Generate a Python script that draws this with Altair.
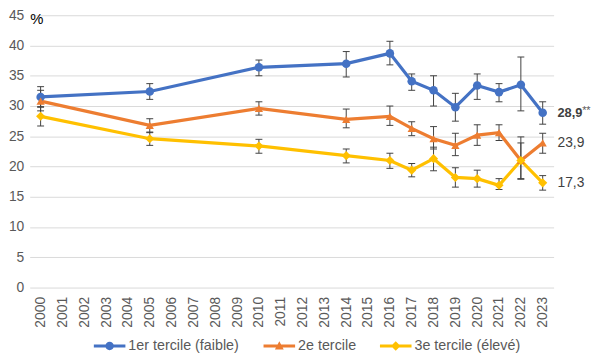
import altair as alt
import pandas as pd

years_all = [str(y) for y in range(2000, 2024)]
years = [2000, 2005, 2010, 2014, 2016, 2017, 2018, 2019, 2020, 2021, 2022, 2023]
series_names = ["1er tercile (faible)", "2e tercile", "3e tercile (élevé)"]

t1 = [31.5, 32.4, 36.4, 37.0, 38.7, 34.1, 32.6, 29.8, 33.4, 32.3, 33.5, 28.9]
t1_lo = [29.8, 31.1, 35.0, 34.8, 36.8, 32.6, 30.0, 27.5, 31.1, 30.7, 29.2, 27.0]
t1_hi = [33.2, 33.7, 37.6, 39.0, 40.7, 35.3, 35.0, 32.1, 35.3, 33.7, 38.1, 30.7]

t2 = [30.8, 26.8, 29.6, 27.8, 28.3, 26.3, 24.6, 23.5, 25.2, 25.6, 21.0, 23.9]
t2_lo = [29.2, 25.6, 28.5, 26.4, 26.8, 25.1, 22.9, 21.8, 23.5, 24.3, 17.9, 22.2]
t2_hi = [32.6, 27.9, 30.7, 29.5, 30.0, 27.4, 26.6, 25.5, 26.9, 26.9, 24.9, 25.5]

t3 = [28.3, 24.6, 23.4, 21.8, 21.0, 19.4, 21.3, 18.2, 18.0, 16.9, 21.0, 17.3]
t3_lo = [26.7, 23.5, 22.2, 20.6, 19.7, 18.3, 19.3, 16.6, 16.6, 16.2, 18.0, 16.1]
t3_hi = [29.9, 25.7, 24.5, 22.9, 22.2, 20.5, 23.2, 19.8, 19.4, 18.0, 23.9, 18.5]

label_year = ["2023", "2023", "2023"]
label_vals = [28.9, 23.9, 17.3]
label_text = ["28,9", "23,9", "17,3"]
label_suffix = ["**", "", ""]
label_bold = [True, False, False]

colors = ["#4472C4", "#ED7D31", "#FFC000"]
shapes = ["circle", "triangle-up", "diamond"]
sizes = [75, 70, 85]
legend_paths = [
    "M-1,-0.1H1V0.1H-1Z M-0.266,0A0.266,0.266,0,1,1,0.266,0A0.266,0.266,0,1,1,-0.266,0Z",
    "M-1,-0.1H1V0.1H-1Z M0,-0.31L0.28,0.22L-0.28,0.22Z",
    "M-1,-0.1H1V0.1H-1Z M0,-0.3L0.3,0L0,0.3L-0.3,0Z",
]

rows = []
for name, vals, lo, hi in zip(series_names, [t1, t2, t3], [t1_lo, t2_lo, t3_lo], [t1_hi, t2_hi, t3_hi]):
    for yr, v, l, h in zip(years, vals, lo, hi):
        rows.append(dict(year=str(yr), series=name, value=v, lo=l, hi=h))
df = pd.DataFrame(rows)

labels = pd.DataFrame(dict(year=label_year, value=label_vals, text=label_text,
                           suffix=label_suffix, bold=label_bold))

FONT = "Liberation Sans"
xscale = alt.Scale(type="point", domain=years_all, padding=0.5)
yscale = alt.Scale(domain=[0, 45], nice=False)
x_axis = alt.Axis(title=None, labelAngle=270, labelPadding=9, ticks=False, domain=False,
                  grid=False, labelColor="#595959", labelFontSize=14, labelFont=FONT)
y_axis = alt.Axis(title="%", titleAngle=0, titleAlign="left", titleX=0, titleY=8,
                  titleBaseline="alphabetic", titleFontSize=15, titleFontWeight="normal",
                  titleColor="#000000", titleFont=FONT,
                  values=list(range(0, 50, 5)), ticks=False, domain=False,
                  grid=True, gridColor="#d9d9d9", gridWidth=1,
                  labelColor="#595959", labelFontSize=14, labelPadding=6, labelFont=FONT)

X = alt.X("year:O", scale=xscale, axis=x_axis)
def Y(field):
    return alt.Y(f"{field}:Q", scale=yscale, axis=y_axis)

base = alt.Chart(df)

line_layers = []
point_layers = []
for name, col, shp, sz in zip(series_names, colors, shapes, sizes):
    sub = base.transform_filter(alt.datum.series == name)
    line_layers.append(sub.mark_line(strokeWidth=3.25, color=col).encode(x=X, y=Y("value")))
    point_layers.append(
        sub.mark_point(filled=True, shape=shp, size=sz, opacity=1, color=col)
        .encode(x=X, y=Y("value"))
    )

err_rule = base.mark_rule(color="#404040", strokeWidth=1).encode(x=X, y=Y("lo"), y2="hi:Q")
cap_lo = base.mark_tick(color="#404040", thickness=1, size=7, opacity=1).encode(x=X, y=Y("lo"))
cap_hi = base.mark_tick(color="#404040", thickness=1, size=7, opacity=1).encode(x=X, y=Y("hi"))

leg = alt.Legend(orient="none", legendX=65, legendY=319, direction="horizontal",
                 labelOffset=3, columnPadding=24, padding=0, symbolSize=1024,
                 symbolStrokeWidth=0, symbolOpacity=1, labelFontSize=14.5, labelColor="#595959",
                 labelFont=FONT)
# legend-only layer: no marks drawn (empty after filter), domain is explicit
legend_layer = base.transform_filter("false").mark_point(filled=True, size=1024).encode(
    x=X, y=Y("value"),
    color=alt.Color("series:N", scale=alt.Scale(domain=series_names, range=colors),
                    legend=leg, title=None),
    shape=alt.Shape("series:N", scale=alt.Scale(domain=series_names, range=legend_paths),
                    legend=leg, title=None),
)

lab = alt.Chart(labels)
lab_normal = lab.transform_filter(~alt.datum.bold).mark_text(
    align="left", baseline="middle", dx=15, fontSize=14, color="#404040", font=FONT
).encode(x=X, y=Y("value"), text="text:N")
lab_bold = lab.transform_filter(alt.datum.bold).mark_text(
    align="left", baseline="middle", dx=15, fontSize=13, fontWeight="bold", color="#404040", font=FONT
).encode(x=X, y=Y("value"), text="text:N")
lab_suffix = lab.transform_filter(alt.datum.bold).mark_text(
    align="left", baseline="middle", dx=40, dy=-2, fontSize=11, color="#595959", font=FONT
).encode(x=X, y=Y("value"), text="suffix:N")

chart = alt.layer(
    *line_layers, err_rule, cap_lo, cap_hi, *point_layers, legend_layer,
    lab_normal, lab_bold, lab_suffix
).properties(
    width=531, height=276,
    autosize=alt.AutoSizeParams(type="none"),
    padding={"left": 22, "top": 5, "right": 45, "bottom": 66},
).configure(font=FONT).configure_view(stroke="transparent")

chart.save("out.html", embed_options={"renderer": "svg", "actions": False})
